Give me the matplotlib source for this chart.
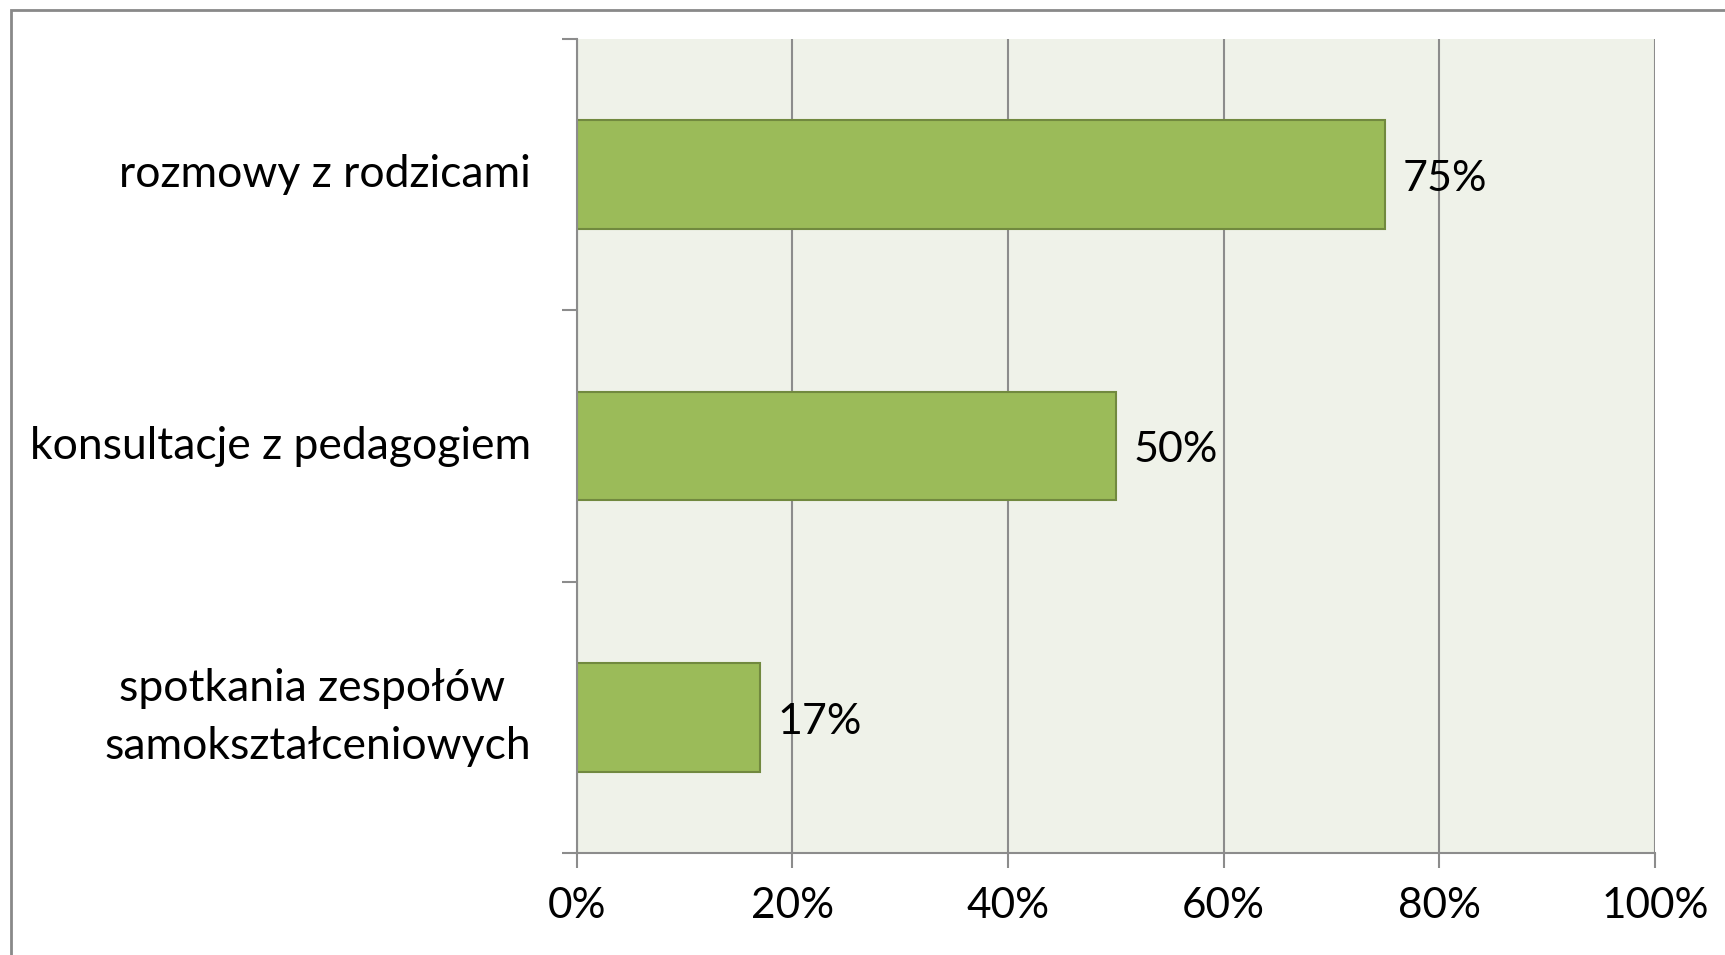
import matplotlib
matplotlib.use("Agg")
import matplotlib.pyplot as plt
import matplotlib.patches as patches
import numpy as np

# data
categories = ["rozmowy z rodzicami", "konsultacje z pedagogiem",
              "spotkania zespołów \nsamokształceniowych"]
values = [75, 50, 17]
xticks = [0, 20, 40, 60, 80, 100]
xtick_labels = ["0%", "20%", "40%", "60%", "80%", "100%"]

plt.rcParams['font.family'] = ['Lato', 'DejaVu Sans']

fig = plt.figure(figsize=(17.25, 9.55), dpi=100)
ax = fig.add_axes([0.3343, 0.1065, 0.9594 - 0.3343, 0.9592 - 0.1065])

gray = "#8c8c8c"
ax.set_facecolor("#eff2e9")

y = np.arange(len(categories))[::-1]
ax.barh(y, values, height=0.4, color="#9bbb59", edgecolor="#71893f",
        linewidth=1.5, zorder=3)

for yi, v in zip(y, values):
    ax.text(v + 1.6, yi - 0.015, f"{v}%", va="center", ha="left", fontsize=31,
            color="black", zorder=4)

ax.set_xlim(0, 100)
ax.set_ylim(-0.5, len(categories) - 0.5)
ax.set_xticks(xticks)
ax.set_xticklabels(xtick_labels, fontsize=30.5)
ax.set_yticks(y)
ax.set_yticklabels(categories, fontsize=32, multialignment="center",
                   linespacing=1.52)
for lbl in ax.get_yticklabels():
    lbl.set_va("center")
ax.set_yticks(np.arange(-0.5, len(categories)), minor=True)

ax.tick_params(axis="y", which="major", length=0, pad=33)
ax.tick_params(axis="y", which="minor", length=11, width=1.5, color=gray)
ax.tick_params(axis="x", which="major", length=11, width=1.5, color=gray, pad=13)

ax.grid(axis="x", color=gray, linewidth=1.5, zorder=1)
ax.set_axisbelow(True)
for side in ["top", "right"]:
    ax.spines[side].set_visible(False)
for side in ["left", "bottom"]:
    ax.spines[side].set_color(gray)
    ax.spines[side].set_linewidth(1.5)
    ax.spines[side].set_zorder(5)

# outer chart border (cut at right and bottom in the reference)
fig.patches.append(patches.Rectangle((11 / 1725, -0.05), 1.1, 1.05 - 10 / 955,
                                     transform=fig.transFigure, fill=False,
                                     edgecolor="#898989", linewidth=2))

fig.savefig("out.png", dpi=100)
